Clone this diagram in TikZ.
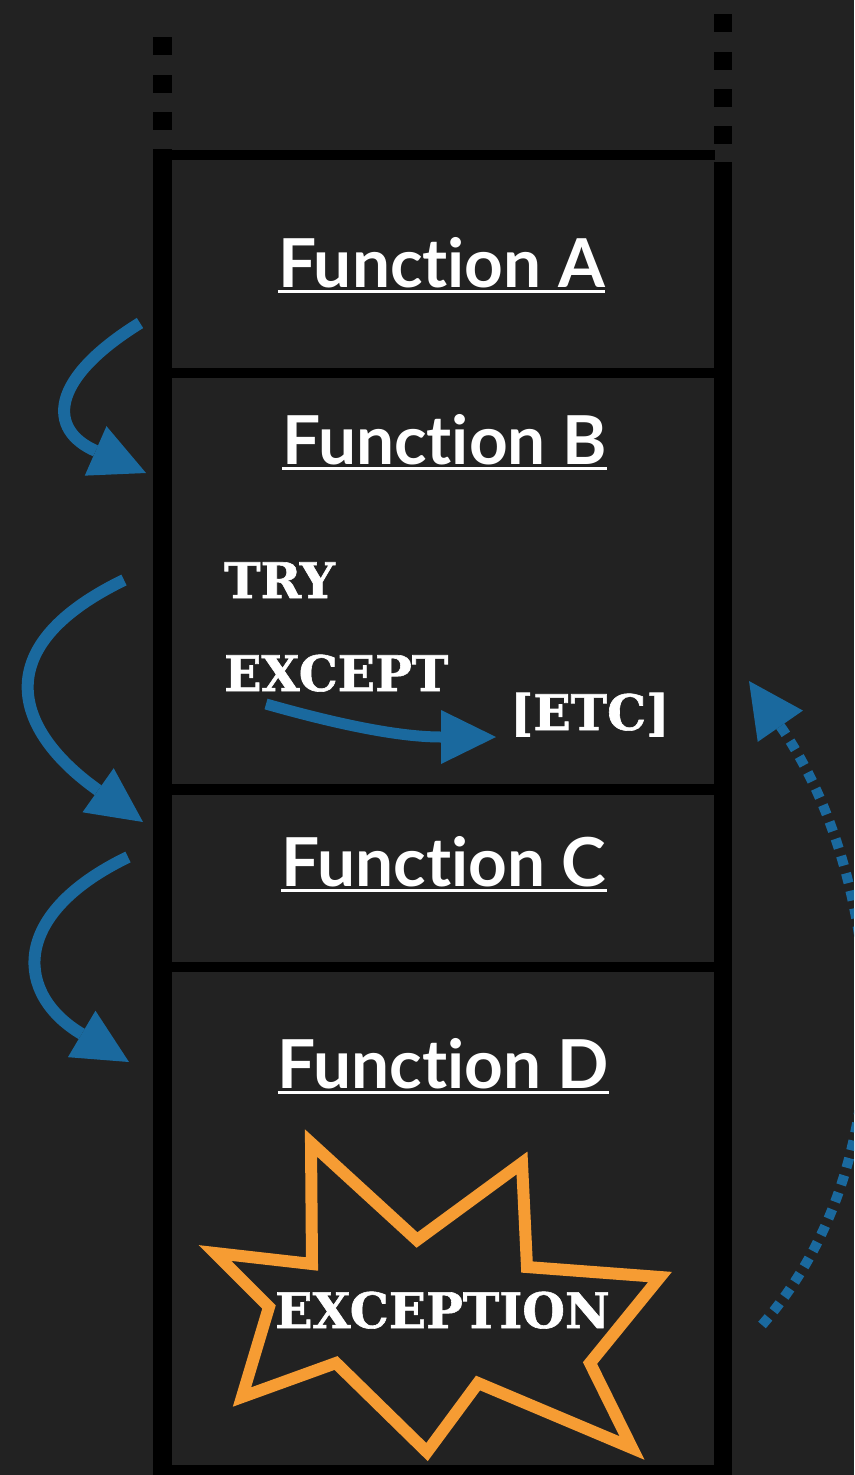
\documentclass[tikz,border=0pt]{standalone}
\usepackage{fontspec}
\usetikzlibrary{arrows.meta}
\newfontfamily\funcfont{Lato}[Ligatures=NoCommon]
\newfontfamily\slabfont{DejaVu Serif}[BoldFeatures={FakeBold=1.2}]
\definecolor{bg}{HTML}{222222}
\definecolor{arrblue}{HTML}{1A699E}
\definecolor{burst}{HTML}{F69C33}
\tikzset{
  wall/.style={fill=black},
  funclabel/.style={text=white, font=\funcfont\bfseries\fontsize{67.5}{72}\selectfont, inner sep=0pt, anchor=base},
  slab/.style={text=white, font=\slabfont\bfseries\fontsize{49}{54}\selectfont, inner sep=0pt},
  uline/.style={draw=white, line width=3pt},
  callarrow/.style={draw=arrblue, line width=12pt, -{Triangle[length=55pt, width=54pt, line width=0pt]}},
  unwind/.style={draw=arrblue, line width=10pt, dash pattern=on 10pt off 8pt, -{Triangle[length=55pt, width=55pt, line width=0pt]}},
  burstline/.style={draw=burst, line width=12pt, line join=miter, miter limit=10}
}
\begin{document}
\begin{tikzpicture}[x=1pt, y=-1pt]
\useasboundingbox (0,0) rectangle (854,1475);
\fill[bg] (0,0) rectangle (854,1475);
\clip (0,0) rectangle (854,1475);

% dashes above the stack
\foreach \ya/\yb in {37/55, 75/93, 112/130}
  \fill[wall] (153,\ya) rectangle (172,\yb);
\foreach \ya/\yb in {14/32, 52/70, 89/107, 126/144}
  \fill[wall] (714,\ya) rectangle (732,\yb);

% walls and dividers
\fill[wall] (153,149) rectangle (172,1475);
\fill[wall] (714,162) rectangle (732,1475);
\fill[wall] (153,150) rectangle (715,160);
\fill[wall] (172,368) rectangle (714,378);
\fill[wall] (172,784) rectangle (714,795);
\fill[wall] (172,962) rectangle (714,972);
\fill[wall] (172,1465) rectangle (714,1475);

% function labels
\node[funclabel] (fa) at (441.5,287) {Function A};
\node[funclabel] (fb) at (444.5,464) {Function B};
\node[funclabel] (fc) at (444,886) {Function C};
\node[funclabel] (fd) at (443.5,1088) {Function D};
\foreach \n in {fa,fb,fc,fd}
  \draw[uline] ([yshift=-4.5pt]\n.base west) -- ([yshift=-4.5pt]\n.base east);

% try / except
\node[slab, anchor=base west] (try) at (224,598) {TRY};
\node[slab, anchor=base west] (exc) at (224,691) {EXCEPT};
\node[slab, anchor=base west] (etc) at (510,730) {[ETC]};

% starburst
\draw[burstline] (311,1143) -- (417,1240) -- (522,1163) -- (527,1267) -- (660,1277)
  -- (590,1363) -- (632,1448) -- (478,1383) -- (427,1452) -- (336,1363)
  -- (242,1397) -- (269,1307) -- (215,1253) -- (312,1264) -- cycle;
\node[slab, anchor=base] (exn) at (442.5,1328) {EXCEPTION};

% call arrows
\coordinate (a1s) at (140,323);  \coordinate (a1e) at (146,473);
\coordinate (a2s) at (124,580);  \coordinate (a2e) at (143,822);
\coordinate (a3s) at (128,857);  \coordinate (a3e) at (129,1062);
\draw[callarrow] (a1s) .. controls (48,380) and (48,430) .. (a1e);
\draw[callarrow] (a2s) .. controls (-20,650) and (20,735) .. (a2e);
\draw[callarrow] (a3s) .. controls (8,915) and (16,995) .. (a3e);

% except -> etc
\coordinate (e1) at (266,704);
\coordinate (e2) at (496,737);
\draw[callarrow, line width=11pt] (e1) .. controls (340,725) and (400,737) .. (e2);

% unwinding dotted arrow
\coordinate (u1) at (762,1325);
\coordinate (u2) at (749,681);
\draw[unwind] (u1) .. controls (915,1150) and (880,870) .. (u2);
\end{tikzpicture}
\end{document}
